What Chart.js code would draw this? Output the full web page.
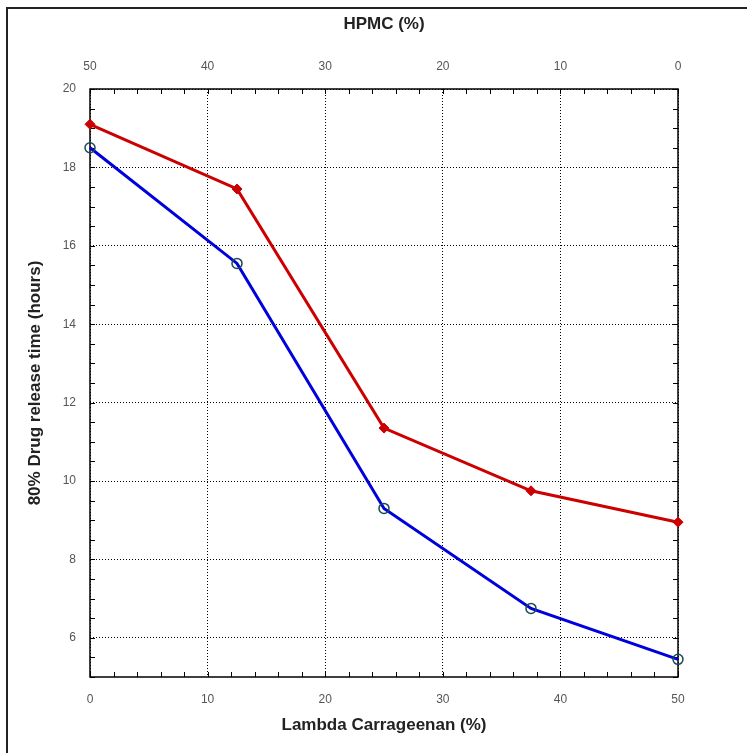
<!DOCTYPE html>
<html>
<head>
<meta charset="utf-8">
<script src="https://cdn.jsdelivr.net/npm/chart.js@4/dist/chart.umd.min.js"></script>
<style>
html,body{margin:0;padding:0;background:#fff;}
canvas{display:block;}
</style>
</head>
<body>
<canvas id="c" width="747" height="753"></canvas>
<script>
// ---- data ----
const carrageenan = [0, 12.5, 25, 37.5, 50];          // Lambda Carrageenan (%)
const releaseRed  = [19.1, 17.45, 11.35, 9.75, 8.95];  // red series (hours)
const releaseBlue = [18.5, 15.55, 9.3, 6.75, 5.45];    // blue series (hours)
const yTicks = [6, 8, 10, 12, 14, 16, 18, 20];
const xTicks = [0, 10, 20, 30, 40, 50];
const xTitle = 'Lambda Carrageenan (%)';
const topTitle = 'HPMC (%)';
const yTitle = '80% Drug release time (hours)';

const tickFont = {family: '"Liberation Sans", Arial, sans-serif', size: 12};
const titleFont = {family: '"Liberation Sans", Arial, sans-serif', size: 17, weight: 'bold'};
const tickColor = '#555';

function toPts(xs, ys){ return xs.map((x,i)=>({x:x, y:ys[i]})); }

const framePlugin = {
  id: 'frame',
  beforeDraw(chart){
    const ctx = chart.ctx;
    ctx.save();
    ctx.fillStyle = '#fff';
    ctx.fillRect(0,0,chart.width,chart.height);
    ctx.strokeStyle = '#222';
    ctx.lineWidth = 2;
    ctx.beginPath();
    ctx.moveTo(7, chart.height);
    ctx.lineTo(7, 8);
    ctx.lineTo(chart.width, 8);
    ctx.stroke();
    ctx.restore();
  },
  beforeDatasetsDraw(chart){
    const {ctx, chartArea:a, scales} = chart;
    ctx.save();
    ctx.strokeStyle = '#000';
    ctx.lineWidth = 1;
    const L = 5;
    ctx.beginPath();
    for (let v = 0; v <= 50; v += 2) {
      const px = Math.round(scales.x.getPixelForValue(v)) + 0.5;
      ctx.moveTo(px, a.bottom); ctx.lineTo(px, a.bottom - L);
      ctx.moveTo(px, a.top); ctx.lineTo(px, a.top + L);
    }
    for (let v = 5; v <= 20; v += 0.5) {
      const py = Math.round(scales.y.getPixelForValue(v)) + 0.5;
      ctx.moveTo(a.left, py); ctx.lineTo(a.left + L, py);
      ctx.moveTo(a.right, py); ctx.lineTo(a.right - L, py);
    }
    ctx.stroke();
    ctx.lineWidth = 1.5;
    ctx.strokeRect(a.left, a.top, a.right - a.left, a.bottom - a.top);
    ctx.restore();
  }
};

new Chart(document.getElementById('c'), {
  type: 'line',
  data: {
    datasets: [
      {
        label: 'red',
        data: toPts(carrageenan, releaseRed),
        borderColor: '#cc0000',
        backgroundColor: '#cc0000',
        borderWidth: 3,
        pointStyle: 'rectRot',
        pointRadius: 5,
        pointBorderWidth: 1,
        pointBorderColor: '#cc0000',
        pointBackgroundColor: '#cc0000',
        tension: 0,
        clip: false,
        xAxisID: 'x', yAxisID: 'y'
      },
      {
        label: 'blue',
        data: toPts(carrageenan, releaseBlue),
        borderColor: '#0000dd',
        backgroundColor: 'rgba(0,0,0,0)',
        borderWidth: 3,
        pointStyle: 'circle',
        pointRadius: 5,
        pointBorderWidth: 1.5,
        pointBorderColor: '#1a4a55',
        pointBackgroundColor: 'rgba(0,0,0,0)',
        tension: 0,
        clip: false,
        xAxisID: 'x', yAxisID: 'y'
      }
    ]
  },
  options: {
    responsive: false,
    animation: false,
    devicePixelRatio: 1,
    layout: {padding: 0},
    plugins: {legend: {display: false}, tooltip: {enabled: false}},
    scales: {
      x: {
        type: 'linear', position: 'bottom', min: 0, max: 50,
        afterBuildTicks: s => { s.ticks = xTicks.map(v => ({value: v})); },
        afterFit: s => { s.height = 76; },
        grid: {color: '#000', lineWidth: 1, drawTicks: false},
        border: {display: false, dash: [1, 2]},
        ticks: {font: tickFont, color: tickColor, padding: 15, maxRotation: 0},
        title: {display: true, text: xTitle, font: titleFont, color: '#222', padding: {top: 0, bottom: 17}}
      },
      x2: {
        type: 'linear', position: 'top', min: 0, max: 50, reverse: true,
        afterBuildTicks: s => { s.ticks = xTicks.map(v => ({value: v})); },
        afterFit: s => { s.height = 89; },
        grid: {display: false, drawTicks: false},
        border: {display: false},
        ticks: {font: tickFont, color: tickColor, padding: 15, maxRotation: 0},
        title: {display: true, text: topTitle, font: titleFont, color: '#222', padding: {top: 14, bottom: 0}}
      },
      y: {
        type: 'linear', position: 'left', min: 5, max: 20,
        afterBuildTicks: s => { s.ticks = yTicks.map(v => ({value: v})); },
        afterFit: s => { s.width = 90; },
        grid: {color: '#000', lineWidth: 1, drawTicks: false},
        border: {display: false, dash: [1, 2]},
        ticks: {font: tickFont, color: tickColor, padding: 14},
        title: {display: true, text: yTitle, font: titleFont, color: '#222', padding: {top: 25, bottom: 0}}
      },
      y2: {
        type: 'linear', position: 'right', min: 5, max: 20,
        afterFit: s => { s.width = 69; },
        grid: {display: false, drawTicks: false},
        border: {display: false},
        ticks: {display: false}
      }
    }
  },
  plugins: [framePlugin]
});
</script>
</body>
</html>
